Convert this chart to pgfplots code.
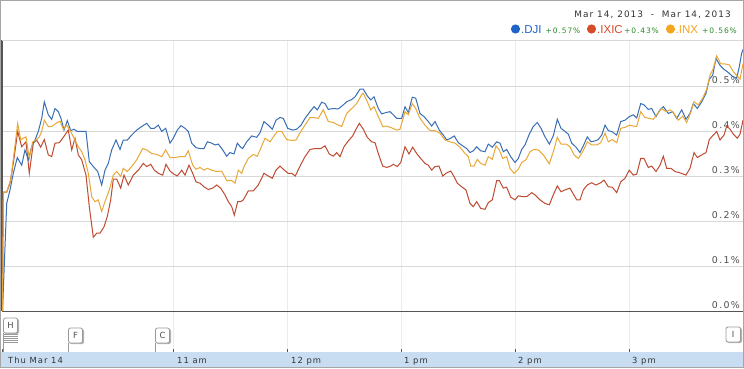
\documentclass[border=0pt]{standalone}
\usepackage{fontspec}
\setmainfont{DejaVu Sans}
\newfontfamily\vfont[LetterSpace=12]{DejaVu Sans}
\newfontfamily\yfont[LetterSpace=14]{DejaVu Sans}
\newfontfamily\afont{Liberation Sans}
\usepackage{pgfplots}
\usepackage{pgfplotstable}
\pgfplotsset{compat=1.18}
\definecolor{dji}{RGB}{58,110,180}
\definecolor{ixic}{RGB}{190,75,50}
\definecolor{inx}{RGB}{232,168,56}
\definecolor{djidot}{RGB}{30,100,200}
\definecolor{ixicdot}{RGB}{215,75,40}
\definecolor{inxdot}{RGB}{245,165,30}
\definecolor{chg}{RGB}{40,140,40}
\definecolor{hgrid}{RGB}{216,216,216}
\definecolor{vgrid}{RGB}{236,236,236}
\definecolor{axisdark}{RGB}{85,85,85}
\definecolor{band}{RGB}{200,221,242}
\definecolor{txt}{RGB}{51,51,51}
\definecolor{tickgray}{RGB}{80,80,80}

% x = position along the trading day (9:30 at 2, 4 pm at 743; 114 units per hour), v = change in %
\pgfplotstableread{
x v
2.5 0.000
6.7 0.239
10 0.269
13.3 0.306
17.3 0.341
21.7 0.324
25 0.358
28.3 0.336
31.7 0.365
35 0.380
38.3 0.399
41.7 0.428
44.3 0.465
48.3 0.436
51.7 0.426
55 0.450
58.3 0.443
61 0.428
64 0.402
67.3 0.423
70.7 0.401
74 0.404
77.3 0.399
81.7 0.399
86 0.399
89.3 0.332
93.3 0.321
97.7 0.310
101.7 0.280
105 0.313
108.3 0.328
111.7 0.358
116 0.380
120 0.359
123.3 0.380
127.3 0.380
131.7 0.391
136.7 0.402
141.7 0.410
146.7 0.417
150.7 0.406
154.3 0.406
158.3 0.413
161.7 0.399
165.7 0.406
170 0.373
173.3 0.384
177.3 0.402
181 0.412
185 0.406
188.3 0.399
191.7 0.373
196 0.363
200 0.361
204 0.361
207.3 0.376
211.7 0.373
215 0.369
218.3 0.371
222.7 0.358
226.7 0.344
230 0.352
234 0.349
237.3 0.373
240.7 0.364
242.7 0.361
246.7 0.376
251.7 0.389
256.7 0.386
260 0.396
264 0.421
268.3 0.413
272.3 0.404
276 0.424
280 0.430
283.3 0.428
287.7 0.406
292.7 0.402
296.7 0.404
301 0.413
305 0.428
310 0.443
314 0.454
317.3 0.447
321.7 0.464
325 0.461
328.3 0.448
333.3 0.450
338.3 0.449
343.3 0.458
346.7 0.465
351.7 0.470
355 0.476
360 0.493
363.3 0.493
367.3 0.478
370.7 0.469
374 0.476
378.3 0.450
381.7 0.438
386 0.441
390 0.443
393.3 0.436
396.7 0.428
401.7 0.428
405 0.454
408.3 0.441
412.3 0.475
415.7 0.473
420 0.439
424 0.432
428.3 0.421
431.7 0.411
435 0.421
439.3 0.402
443.3 0.391
446.7 0.380
450.7 0.384
454.3 0.389
458.3 0.374
462.7 0.367
466.7 0.361
470 0.352
473.3 0.356
476.7 0.365
480.7 0.356
485 0.354
488.3 0.371
492.3 0.364
496.7 0.376
500 0.373
503.3 0.354
506.7 0.359
510.7 0.343
515 0.330
518.3 0.339
521.7 0.359
525 0.369
529.3 0.393
533.3 0.410
537.3 0.419
541 0.406
545 0.387
549.3 0.371
553.3 0.389
557.3 0.426
561 0.406
565 0.399
568.3 0.393
571.7 0.373
576 0.364
580 0.352
583.3 0.367
587.3 0.387
591 0.376
595 0.378
598.3 0.381
601.7 0.391
605 0.413
608.3 0.401
612.3 0.398
616.7 0.391
620.7 0.421
625 0.424
629.3 0.432
633.3 0.436
636.7 0.429
640.7 0.461
644 0.458
648.3 0.448
651.7 0.450
656 0.432
660 0.447
663.3 0.454
668.3 0.439
672.7 0.443
676.7 0.428
681.7 0.447
686 0.426
690 0.439
693.3 0.461
697.3 0.450
701.7 0.465
706 0.484
709.3 0.515
712.7 0.524
716 0.561
720 0.546
724 0.537
728.3 0.530
732.7 0.521
736.7 0.517
739.3 0.543
741.7 0.573
743 0.581
}\dji

\pgfplotstableread{
x v
2.5 0.000
3.3 0.264
6.7 0.264
10 0.284
13.3 0.328
17.7 0.399
21.7 0.365
26 0.376
29.3 0.306
33.3 0.373
36.7 0.380
40.7 0.364
44.3 0.381
48.3 0.347
51.7 0.343
55 0.373
59.3 0.374
63.3 0.386
68.3 0.402
71.7 0.358
75 0.384
78.3 0.347
81.7 0.336
86 0.302
89.3 0.232
93.3 0.164
96.7 0.173
100 0.173
104 0.187
107.3 0.210
110.7 0.247
113.3 0.293
116.7 0.293
120.7 0.273
124 0.302
128.3 0.280
133.3 0.302
138.3 0.313
143.3 0.328
146.7 0.321
150.7 0.326
154.3 0.313
158.3 0.306
162.7 0.302
166 0.326
170 0.311
174 0.304
177.3 0.300
181.7 0.313
185 0.302
189 0.324
192.7 0.306
196 0.287
200 0.284
204 0.276
208.3 0.270
212.7 0.273
216.7 0.280
220.7 0.273
225 0.258
228.3 0.243
231.7 0.232
234.3 0.213
237.7 0.243
240.7 0.243
243.3 0.247
248.3 0.267
253.3 0.267
258.3 0.280
264 0.306
268.3 0.300
272.3 0.295
276 0.313
280 0.322
284.3 0.313
288.3 0.306
291.7 0.306
295.3 0.300
300 0.322
305 0.343
310 0.359
315 0.361
320.7 0.361
325 0.367
329.3 0.349
333.3 0.344
336.7 0.352
340 0.343
344 0.365
348.3 0.378
352.7 0.389
356 0.404
359.3 0.417
363.3 0.404
367.3 0.386
371.7 0.376
375 0.374
378.3 0.350
382.7 0.322
386.7 0.319
390.7 0.322
393.3 0.326
397.3 0.321
400.7 0.330
405 0.365
409 0.349
412.7 0.364
416.7 0.350
420.7 0.339
425 0.328
428.3 0.324
431.7 0.313
435 0.321
439 0.322
442.7 0.300
446.7 0.307
450.7 0.311
454 0.299
457.3 0.284
461.7 0.276
466 0.269
470 0.239
473.3 0.232
476.7 0.243
480.7 0.228
485 0.226
488.3 0.241
492.3 0.247
496.7 0.290
499.3 0.290
503.3 0.273
506.7 0.275
510.7 0.253
515 0.247
518.3 0.256
522.7 0.254
526.7 0.254
531.7 0.263
535 0.258
540 0.247
545 0.239
549.3 0.236
553.3 0.258
557.3 0.278
561 0.265
566 0.270
570 0.273
573.3 0.260
576.7 0.247
580 0.247
583.3 0.269
587.3 0.280
591.7 0.285
596 0.280
600.7 0.285
604 0.291
608.3 0.276
612.3 0.275
616.7 0.263
620.7 0.287
625 0.295
629.3 0.313
633.3 0.302
636.7 0.304
640.7 0.339
644 0.339
648.3 0.319
651.7 0.322
656 0.310
660 0.324
663.3 0.344
666.7 0.317
671 0.317
675 0.310
680 0.307
686 0.302
690 0.317
694 0.352
697.3 0.341
701.7 0.347
706 0.352
709.3 0.381
713.3 0.391
716.7 0.399
720 0.380
724 0.391
726.7 0.411
730 0.404
733.3 0.393
737.3 0.384
740 0.393
743 0.424
}\ixic

\pgfplotstableread{
x v
2.5 0.000
3.3 0.264
6.7 0.264
8.3 0.276
10.7 0.291
14 0.350
17.7 0.417
20.7 0.380
23.3 0.384
26 0.387
29.3 0.339
32.7 0.376
36 0.380
39.3 0.387
41.7 0.399
44.3 0.424
48.3 0.410
51.7 0.410
56 0.417
60 0.422
63.3 0.404
66.7 0.413
70 0.402
74 0.384
78.3 0.365
81.7 0.354
85 0.336
88.3 0.306
91.7 0.254
95 0.243
98.3 0.247
101.7 0.221
105 0.243
109.3 0.269
113.3 0.302
116.7 0.310
120.7 0.299
123.3 0.317
127.3 0.310
131.7 0.321
136.7 0.336
142.7 0.361
146.7 0.358
151.7 0.350
156.7 0.348
161.7 0.343
165.7 0.358
170 0.341
175 0.341
180 0.343
185 0.343
188.3 0.356
192.7 0.324
196 0.315
200 0.319
204 0.313
207.3 0.317
211.7 0.313
216.7 0.310
221.7 0.311
226.7 0.290
231.7 0.290
235 0.284
238.3 0.313
241.7 0.306
244 0.321
248.3 0.339
253.3 0.348
257.3 0.344
260.7 0.361
265 0.384
270 0.376
273.3 0.387
277.3 0.399
281.7 0.399
286.7 0.381
291.7 0.379
296 0.380
300 0.396
305 0.413
310 0.430
314 0.430
318.3 0.428
323.3 0.447
328.3 0.421
333.3 0.419
338.3 0.413
341.7 0.410
346.7 0.439
351.7 0.450
356.7 0.461
361.7 0.481
363.3 0.484
367.3 0.465
370.7 0.447
374 0.454
378.3 0.432
382.7 0.410
386.7 0.411
391.7 0.407
396.7 0.402
400 0.404
405 0.443
408.3 0.436
412.3 0.461
415.7 0.450
420 0.428
425 0.413
430 0.401
435 0.401
440 0.395
445 0.380
450 0.376
455 0.373
460 0.364
465 0.350
468.3 0.343
470.7 0.322
474 0.322
477.3 0.337
480.7 0.328
485 0.324
488.3 0.343
492.3 0.337
496 0.367
499.3 0.358
502.7 0.339
506.7 0.343
510 0.317
514 0.306
518.3 0.315
521.7 0.330
526 0.336
530 0.354
534 0.359
538.3 0.358
543.3 0.347
549.3 0.327
553.3 0.354
557.3 0.386
561 0.371
566 0.371
570 0.365
574 0.347
578.3 0.339
582.7 0.354
587.3 0.376
591.7 0.369
596.7 0.369
600.7 0.374
605 0.395
608.3 0.376
612.3 0.381
616.7 0.374
620.7 0.406
625 0.408
629.3 0.413
633.3 0.411
636.7 0.410
640.7 0.443
645 0.430
649.3 0.428
653.3 0.426
657.3 0.438
661.7 0.450
666 0.443
670 0.447
674 0.439
678.3 0.424
682.7 0.433
686.7 0.419
690.7 0.441
694 0.465
698.3 0.458
702.7 0.473
706.7 0.493
710 0.524
713.3 0.539
716.7 0.567
720.7 0.549
725 0.549
729.3 0.547
733.3 0.532
737.3 0.522
740 0.515
743 0.550
}\inx

\begin{document}
\begin{tikzpicture}[x=1pt,y=1pt]
\useasboundingbox (0,0) rectangle (744,368);
\fill[white] (0,0) rectangle (744,368);
\begin{axis}[
  at={(2pt,16pt)}, anchor=south west,
  scale only axis, width=741pt, height=312pt,
  xmin=2, xmax=743, ymin=-0.09111, ymax=0.60222,
  axis line style={draw=none},
  major tick length=0pt,
  xtick={173,287,401,515,629}, xticklabels={},
  ytick={0,0.1,0.2,0.3,0.4,0.5},
  yticklabel pos=right,
  /pgf/number format/assume math mode=true,
  yticklabel={\pgfmathprintnumber[fixed,fixed zerofill,precision=1]{\tick}\%},
  yticklabel style={anchor=south east, inner sep=0pt, xshift=-3pt, yshift=2pt,
    font=\yfont\fontsize{9.4}{10}\selectfont, text=tickgray},
  xmajorgrids, ymajorgrids,
  x grid style={vgrid, line width=1pt},
  y grid style={hgrid, line width=1pt},
  clip=false,
]
\draw[axisdark, line width=1pt] (axis cs:2,0) -- (axis cs:743,0);
\draw[axisdark, line width=1.2pt] (axis cs:2,0) -- (axis cs:2,0.60222);
\addplot[ixic, line width=1pt, mark=none] table[x=x, y=v] {\ixic};
\addplot[dji, line width=1pt, mark=none] table[x=x, y=v] {\dji};
\addplot[inx, line width=1pt, mark=none] table[x=x, y=v] {\inx};
\end{axis}
% top rule
\draw[hgrid, line width=1pt] (2,328) -- (743,328);
% time band
\fill[band] (1,1) rectangle (743,16);
\foreach \xx in {2,173,287,401,515,629} \draw[axisdark, line width=1pt] (\xx,16) -- (\xx,19.5);
\begin{scope}[every node/.style={anchor=base west, inner sep=0pt, text=txt, font=\vfont\fontsize{8.4}{10}\selectfont}]
\node at (8,5) {Thu Mar 14};
\node at (177,5) {11 am};
\node at (291,5) {12 pm};
\node at (404,5) {1 pm};
\node at (518,5) {2 pm};
\node at (632,5) {3 pm};
\end{scope}
% event flags
\begin{scope}[every node/.style={inner sep=0pt, text=tickgray, font=\vfont\fontsize{8.4}{10}\selectfont}]
\draw[gray!80, line width=0.8pt] (3.5,16) -- (3.5,35);
\foreach \yy in {26,28,30,32,34} \draw[gray!80, line width=0.7pt] (3.5,\yy) -- (17.5,\yy);
\fill[gray!60, rounded corners=2pt] (4.5,34) rectangle (19,49);
\filldraw[fill=white, draw=gray!80, line width=0.8pt, rounded corners=2pt] (3.5,35) rectangle (17.5,50);
\node at (10.5,42.5) {H};
\draw[gray!80, line width=0.8pt] (68.5,16) -- (68.5,25);
\fill[gray!60, rounded corners=2pt] (69.5,24) rectangle (84,39);
\filldraw[fill=white, draw=gray!80, line width=0.8pt, rounded corners=2pt] (68.5,25) rectangle (82.5,40);
\node at (75.5,32.5) {F};
\draw[gray!80, line width=0.8pt] (155.5,16) -- (155.5,25);
\fill[gray!60, rounded corners=2pt] (156.5,24) rectangle (171,39);
\filldraw[fill=white, draw=gray!80, line width=0.8pt, rounded corners=2pt] (155.5,25) rectangle (169.5,40);
\node at (162.5,32.5) {C};
\fill[gray!60, rounded corners=2pt] (727,25) rectangle (742,40);
\filldraw[fill=white, draw=gray!80, line width=0.8pt, rounded corners=2pt] (726,26) rectangle (740.5,41);
\node at (733.2,33.5) {I};
\end{scope}
% header: date range and legend
\node[anchor=base east, inner sep=0pt, text=txt, font=\vfont\fontsize{8.9}{10}\selectfont] at (731,350.7) {Mar 14, 2013\ \ -\ \ Mar 14, 2013};
\fill[djidot] (515.5,339) circle (4.6);
\fill[ixicdot] (591.5,339) circle (4.6);
\fill[inxdot] (670.5,339) circle (4.6);
\begin{scope}[every node/.style={anchor=base west, inner sep=0pt}]
\node[text=djidot, font=\afont\fontsize{11.5}{12}\selectfont] at (521,335) {.DJI};
\node[text=chg, font=\vfont\fontsize{7.5}{9}\selectfont] at (545.5,335) {+0.57\%};
\node[text=ixicdot, font=\afont\fontsize{11.5}{12}\selectfont] at (597,335) {.IXIC};
\node[text=chg, font=\vfont\fontsize{7.5}{9}\selectfont] at (624,335) {+0.43\%};
\node[text=inxdot, font=\afont\fontsize{11.5}{12}\selectfont] at (675.5,335) {.INX};
\node[text=chg, font=\vfont\fontsize{7.5}{9}\selectfont] at (702,335) {+0.56\%};
\end{scope}
% outer frame
\draw[gray!70, line width=1pt] (0.5,0.5) rectangle (743.5,367.5);
\end{tikzpicture}
\end{document}
